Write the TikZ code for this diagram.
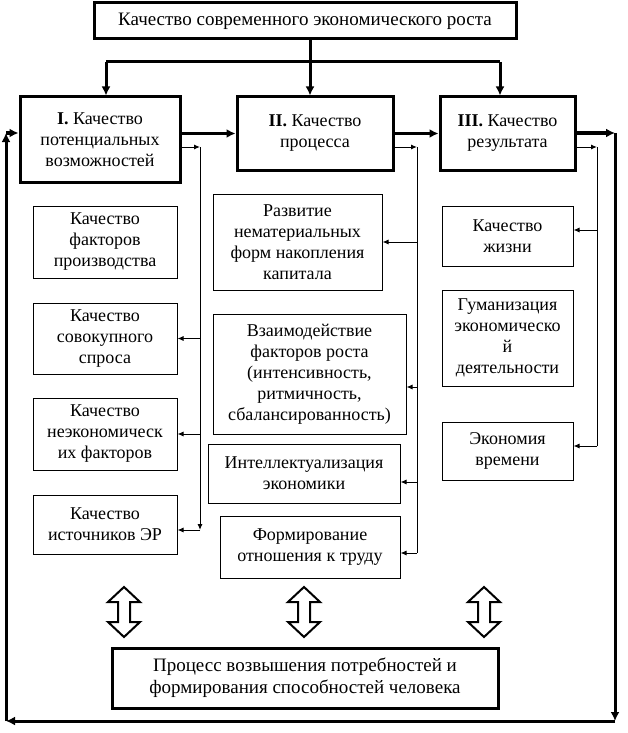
\documentclass[tikz,border=0pt]{standalone}
\usepackage{fontspec}
\setmainfont{Liberation Serif}
\usetikzlibrary{arrows.meta}
\begin{document}
\begin{tikzpicture}[x=1pt,y=-1pt,
  base/.style={draw, align=center, inner sep=0pt, font=\fontsize{18}{21}\selectfont},
  bbox/.style={base, line width=3pt},
  tbox/.style={base, line width=1pt},
  bigtxt/.style={font=\fontsize{19}{22}\selectfont},
  thk/.style={line width=3pt},
  thkarr/.style={line width=3pt, -{Latex[length=9pt,width=9pt]}},
  thn/.style={line width=1pt},
  thnarr/.style={line width=1pt, -{Latex[length=6pt,width=5pt]}},
  dbl/.style={line width=2pt, fill=white, line join=miter}
]
\useasboundingbox (0,0) rectangle (627,733);
\fill[white] (0,0) rectangle (627,733);

% main boxes
\node[bbox, bigtxt, minimum width=422pt, minimum height=36pt] (top) at (305,21) {Качество современного экономического роста};
\node[bbox, minimum width=160pt, minimum height=85pt] (boxI) at (100,139.5) {\textbf{I.} Качество\\ потенциальных\\ возможностей};
\node[bbox, minimum width=156pt, minimum height=73pt] (boxII) at (315,133.5) {\textbf{II.} Качество\\ процесса};
\node[bbox, minimum width=135pt, minimum height=73pt] (boxIII) at (507.5,133.5) {\textbf{III.} Качество\\ результата};
\node[bbox, bigtxt, minimum width=386pt, minimum height=60pt] (bot) at (305,678) {Процесс возвышения потребностей и\\ формирования способностей человека};

% left column
\node[tbox, minimum width=144pt, minimum height=72pt] (L1) at (105,242) {Качество\\ факторов\\ производства};
\node[tbox, minimum width=144pt, minimum height=71pt] (L2) at (105,338.5) {Качество\\ совокупного\\ спроса};
\node[tbox, minimum width=144pt, minimum height=72pt] (L3) at (105,434) {Качество\\ неэкономическ\\ их факторов};
\node[tbox, minimum width=144pt, minimum height=59pt] (L4) at (105,524.5) {Качество\\ источников ЭР};

% middle column
\node[tbox, minimum width=169pt, minimum height=96pt] (M1) at (297.5,242) {Развитие\\ нематериальных\\ форм накопления\\ капитала};
\node[tbox, minimum width=193pt, minimum height=120pt] (M2) at (309.5,374) {Взаимодействие\\ факторов роста\\ (интенсивность,\\ ритмичность,\\ сбалансированность)};
\node[tbox, minimum width=192pt, minimum height=59pt] (M3) at (304,473.5) {Интеллектуализация\\ экономики};
\node[tbox, minimum width=180pt, minimum height=62pt] (M4) at (310,547) {Формирование\\ отношения к труду};

% right column
\node[tbox, minimum width=131pt, minimum height=60pt] (R1) at (507.5,236) {Качество\\ жизни};
\node[tbox, minimum width=131pt, minimum height=96pt] (R2) at (507.5,338) {Гуманизация\\ экономическо\\ й\\ деятельности};
\node[tbox, minimum width=131pt, minimum height=58pt] (R3) at (507.5,451) {Экономия\\ времени};

% top distribution
\coordinate (j) at (310,62);
\coordinate (hL) at (106,62);
\coordinate (hR) at (500,62);
\draw[thk] (j |- top.south) -- (j);
\draw[thk] (hL) -- (hR);
\draw[thkarr] (hL) -- (hL |- boxI.north);
\draw[thkarr] (j) -- (j |- boxII.north);
\draw[thkarr] (hR) -- (hR |- boxIII.north);

% horizontal thick arrows
\draw[thkarr] (boxI.east |- boxII.west) -- (boxII.west);
\draw[thkarr] (boxII.east) -- (boxIII.west);

% outer loop
\coordinate (oTR) at (615,133);
\coordinate (oBR) at (615,721);
\coordinate (oBL) at (6,721);
\coordinate (oTL) at (6,133);
\draw[thkarr] (boxIII.east |- oTR) -- (oTR);
\draw[thkarr] (oTR) -- (oBR);
\draw[thkarr] (oBR) -- (oBL);
\draw[thkarr] (oBL) -- (oTL);
\draw[thkarr] (oTL) -- (oTL -| boxI.west);

% left thin connectors
\coordinate (vL) at (200,147);
\coordinate (vLb) at (200,530);
\draw[thnarr] ([yshift=-7.5pt]boxI.east) -- (vL);
\draw[thnarr] (vL) -- (vLb);
\draw[thnarr] (vL |- L2.east) -- (L2.east);
\draw[thnarr] (vL |- L3.east) -- (L3.east);
\draw[thnarr] (vLb) -- (vLb -| L4.east);

% middle thin connectors
\coordinate (vM) at (417,147);
\coordinate (vMb) at (417,553);
\coordinate (m2) at ([yshift=-13pt]M2.east);
\coordinate (m3) at ([yshift=-8.5pt]M3.east);
\draw[thnarr] ([yshift=-13.5pt]boxII.east) -- (vM);
\draw[thn] (vM) -- (vMb);
\draw[thnarr] (vM |- M1.east) -- (M1.east);
\draw[thnarr] (vM |- m2) -- (m2);
\draw[thnarr] (vM |- m3) -- (m3);
\draw[thnarr] (vMb) -- (vMb -| M4.east);

% right thin connectors
\coordinate (vR) at (597,147);
\coordinate (vRb) at (597,446);
\coordinate (r1) at ([yshift=6pt]R1.east);
\draw[thnarr] ([yshift=-13.5pt]boxIII.east) -- (vR);
\draw[thn] (vR) -- (vRb);
\draw[thnarr] (vR |- r1) -- (r1);
\draw[thnarr] (vRb) -- (vRb -| R3.east);

% double hollow arrows
\foreach \cx in {124,304,484}{
  \draw[dbl] (\cx,587) -- ({\cx+16},602) -- ({\cx+6},602) -- ({\cx+6},622) -- ({\cx+16},622) -- (\cx,637)
    -- ({\cx-16},622) -- ({\cx-6},622) -- ({\cx-6},602) -- ({\cx-16},602) -- cycle;
}
\end{tikzpicture}
\end{document}
